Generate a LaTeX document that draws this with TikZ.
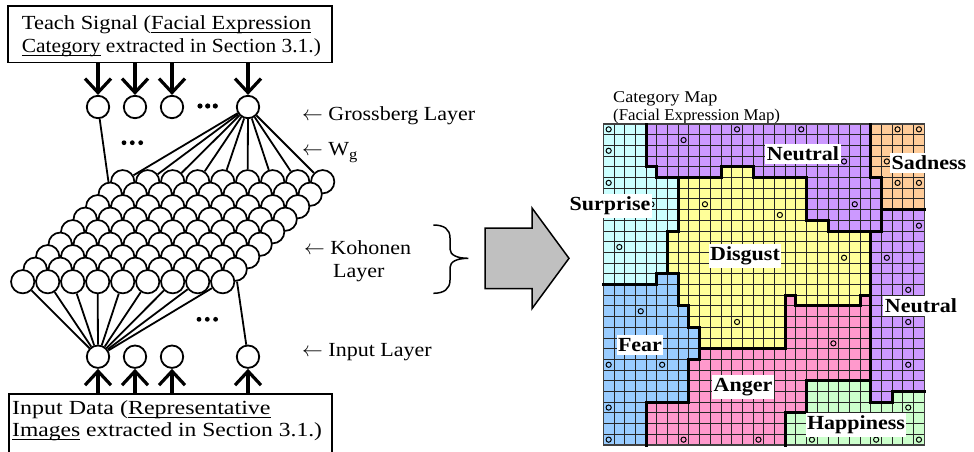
\documentclass[tikz,border=0pt]{standalone}
\usepackage{fontspec}
\setmainfont{Liberation Serif}[FakeStretch=1.1]
\newsavebox{\myulbox}
\newcommand{\myul}[1]{\leavevmode\sbox{\myulbox}{#1}\rlap{\rule[-3.6pt]{\wd\myulbox}{1.1pt}}\usebox{\myulbox}}
\usetikzlibrary{arrows.meta}
\pgfdeclarelayer{background}
\pgfsetlayers{background,main}
\definecolor{cyanc}{RGB}{204,255,255}
\definecolor{purplec}{RGB}{204,153,255}
\definecolor{orangec}{RGB}{255,204,153}
\definecolor{yellowc}{RGB}{255,255,153}
\definecolor{bluec}{RGB}{153,204,255}
\definecolor{pinkc}{RGB}{255,153,204}
\definecolor{greenc}{RGB}{204,255,204}
\definecolor{arrowgray}{RGB}{192,192,192}
\tikzset{
  neuron/.style={circle, draw, line width=1.8pt, fill=white, minimum size=22.4pt, inner sep=0pt},
  kneuron/.style={circle, draw, line width=1.7pt, fill=white, minimum size=23.3pt, inner sep=0pt},
  wire/.style={line width=1.8pt},
  feed/.style={line width=4pt, -{Straight Barb[length=14pt,width=26pt,line width=3.2pt]}},
  txt/.style={font=\fontsize{20}{23}\selectfont, inner sep=0pt, anchor=base west},
  titletxt/.style={font=\fontsize{16.5}{19}\selectfont, inner sep=0pt, anchor=base west},
  maplabel/.style={font=\fontsize{20}{23}\selectfont\bfseries, fill=white, inner xsep=1.5pt, inner ysep=3pt},
  boxframe/.style={draw, line width=1.5pt, inner sep=0pt, anchor=north west},
  region/.style={line width=3pt, line join=miter, line cap=rect},
  gridline/.style={line width=1pt, black!85},
  cellmark/.style={line width=1pt, black},
  dotfill/.style={fill=black}
}
\begin{document}
\begin{tikzpicture}[x=1pt,y=-1pt]
\useasboundingbox (0,0) rectangle (974,451);

% ---------------- boxes and texts ----------------
\node[boxframe, minimum width=324pt, minimum height=56.5pt] (teach) at (7,5) {};
\node[txt] (teach1) at (21.7,29) {\scalebox{1.02}[1]{Teach Signal (\myul{Facial Expression}}};
\node[txt] (teach2) at (21.7,52) {\scalebox{0.975}[1]{\myul{Category} extracted in Section 3.1.)}};

\node[boxframe, minimum width=323pt, minimum height=70pt] (inbox) at (8,393) {};
\node[txt] (in1) at (12,414) {\scalebox{1.09}[1]{Input Data (\myul{Representative}}};
\node[txt] (in2) at (12,436) {\scalebox{1.07}[1]{\myul{Images} extracted in Section 3.1.)}};

% ---------------- Grossberg layer ----------------
\node[neuron] (g1) at (98,107) {};
\node[neuron] (g2) at (135,107) {};
\node[neuron] (g3) at (172,107) {};
\node[neuron] (g4) at (248,107) {};

% ---------------- Input layer ----------------
\node[neuron] (i1) at (98,356.7) {};
\node[neuron] (i2) at (135,356.7) {};
\node[neuron] (i3) at (172,356.7) {};
\node[neuron] (i4) at (248,356.7) {};

% ---------------- Kohonen layer ----------------
\foreach \r in {0,...,8}{
  \foreach \c in {0,...,8}{
    \node[kneuron] (k-\r-\c) at ({122.7+25*\c-12.5*\r},{181.7+12.5*\r}) {};
  }
}

\begin{pgfonlayer}{background}
  \foreach \c in {0,...,8}{
    \draw[wire] (g4) -- (k-0-\c);
    \draw[wire] (i1) -- (k-8-\c);
  }
  \draw[wire] (g1) -- (k-1-0);
  \draw[wire] (i4) -- (k-7-8);
\end{pgfonlayer}

% feed arrows
\foreach \n in {g1,g2,g3,g4}{
  \draw[feed] (teach.south -| \n) -- (\n);
}
\foreach \n in {i1,i2,i3,i4}{
  \draw[feed] (inbox.north -| \n) -- (\n);
}

% ellipsis dots
\foreach \x in {200,207.7,215.3}{ \fill[dotfill] (\x,106) circle[radius=2.6pt]; }
\foreach \x in {124,132.3,140.7}{ \fill[dotfill] (\x,142.7) circle[radius=2.4pt]; }
\foreach \x in {199,207.3,215.6}{ \fill[dotfill] (\x,319.3) circle[radius=2.4pt]; }

% layer labels
\node[txt] (lgross) at (302,120) {$\leftarrow$ Grossberg Layer};
\node[txt] (lwg) at (302,155) {$\leftarrow$ W\raisebox{-4.5pt}{\fontsize{15}{15}\selectfont g}};
\node[txt] (lkoh1) at (304,254) {$\leftarrow$ Kohonen};
\node[txt] (lkoh2) at (333,277) {Layer};
\node[txt] (linp) at (302,356) {$\leftarrow$ Input Layer};

% brace
\draw[line width=1.5pt] (433.3,225) .. controls (444,225) and (450,229) .. (450,238)
  -- (450,249) .. controls (450,255) and (457,258.3) .. (468.3,258.3)
  .. controls (457,258.3) and (450,261.6) .. (450,267.6)
  -- (450,280) .. controls (450,289) and (444,293.3) .. (433.3,293.3);

% big arrow
\draw[line width=1.5pt, fill=arrowgray, line join=miter]
  (485,228) -- (532,228) -- (532,208) -- (569,258.3) -- (532,308.6) -- (532,288.6) -- (485,288.6) -- cycle;

% ---------------- category map ----------------
\node[titletxt] (mt1) at (613,102) {Category Map};
\node[titletxt] (mt2) at (613,120) {\scalebox{0.93}[1]{(Facial Expression Map)}};

\begin{scope}[xshift=603.3pt, yshift=-124pt, x=10.7pt, y=-10.7pt]
  \fill[cyanc] (0,0) -- (4,0) -- (4,4) -- (5,4) -- (5,5) -- (7,5) -- (7,10) -- (6,10) -- (6,14) -- (5,14) -- (5,15) -- (0,15) -- cycle;
  \fill[purplec] (4,0) -- (25,0) -- (25,5) -- (26,5) -- (26,10) -- (21,10) -- (21,9) -- (19,9) -- (19,5) -- (14,5) -- (14,4) -- (11,4) -- (11,5) -- (5,5) -- (5,4) -- (4,4) -- cycle;
  \fill[orangec] (25,0) -- (30,0) -- (30,8) -- (26,8) -- (26,5) -- (25,5) -- cycle;
  \fill[yellowc] (7,5) -- (11,5) -- (11,4) -- (14,4) -- (14,5) -- (19,5) -- (19,9) -- (21,9) -- (21,10) -- (25,10) -- (25,16) -- (24,16) -- (24,17) -- (18,17) -- (18,16) -- (17,16) -- (17,21) -- (9,21) -- (9,19) -- (8,19) -- (8,17) -- (7,17) -- (7,14) -- (6,14) -- (6,10) -- (7,10) -- cycle;
  \fill[bluec] (5,14) -- (7,14) -- (7,17) -- (8,17) -- (8,19) -- (9,19) -- (9,22) -- (8,22) -- (8,26) -- (4,26) -- (4,30) -- (0,30) -- (0,15) -- (5,15) -- cycle;
  \fill[pinkc] (9,21) -- (17,21) -- (17,16) -- (18,16) -- (18,17) -- (24,17) -- (24,16) -- (25,16) -- (25,24) -- (19,24) -- (19,27) -- (17,27) -- (17,30) -- (4,30) -- (4,26) -- (8,26) -- (8,22) -- (9,22) -- cycle;
  \fill[greenc] (19,24) -- (25,24) -- (25,26) -- (27,26) -- (27,25) -- (30,25) -- (30,30) -- (17,30) -- (17,27) -- (19,27) -- cycle;
  \fill[purplec] (26,8) -- (30,8) -- (30,25) -- (27,25) -- (27,26) -- (25,26) -- (25,10) -- (26,10) -- cycle;

  \foreach \i in {1,...,29}{
    \draw[gridline] (\i,0) -- (\i,30);
    \draw[gridline] (0,\i) -- (30,\i);
  }
  \draw[line width=1.2pt, black!75] (0,0) rectangle (30,30);

  % region boundaries
  \draw[region] (4,0) -- (4,4) -- (5,4) -- (5,5) -- (7,5) -- (11,5) -- (11,4) -- (14,4) -- (14,5) -- (19,5) -- (19,9) -- (21,9) -- (21,10) -- (26,10);
  \draw[region] (25,0) -- (25,5) -- (26,5) -- (26,10);
  \draw[region] (26,8) -- (30,8);
  \draw[region] (7,5) -- (7,10) -- (6,10) -- (6,14) -- (7,14) -- (7,17) -- (8,17) -- (8,19) -- (9,19) -- (9,21) -- (17,21) -- (17,16) -- (18,16) -- (18,17) -- (24,17) -- (24,16) -- (25,16);
  \draw[region] (6,14) -- (5,14) -- (5,15) -- (0,15);
  \draw[region] (25,10) -- (25,26) -- (27,26) -- (27,25) -- (30,25);
  \draw[region] (9,21) -- (9,22) -- (8,22) -- (8,26) -- (4,26) -- (4,30);
  \draw[region] (25,24) -- (19,24) -- (19,27) -- (17,27) -- (17,30);

  % cell marks
  \foreach \c/\r in {0/0,0/2,0/5,4/7,1/11,7/1,12/0,9/7,18/0,22/3,26/3,27/0,29/0,27/5,29/5,23/7,16/8,29/9,22/12,26/12,3/17,12/18,0/22,5/22,0/26,0/29,7/29,14/29,28/15,28/18,21/20,28/22,28/26,19/29,25/29,29/29}{
    \draw[cellmark] (\c+0.5,\r+0.5) circle[radius=2.6pt];
  }
\end{scope}

% map labels
\node[maplabel] (lsur) at (610,206) {Surprise};
\node[maplabel] (lneu1) at (803,154) {Neutral};
\node[maplabel] (lsad) at (929,163) {Sadness};
\node[maplabel] (ldis) at (745,256) {Disgust};
\node[maplabel] (lneu2) at (921,306) {Neutral};
\node[maplabel] (lfear) at (640,345) {Fear};
\node[maplabel] (lang) at (743,387) {Anger};
\node[maplabel] (lhap) at (856,425) {Happiness};
\end{tikzpicture}
\end{document}
